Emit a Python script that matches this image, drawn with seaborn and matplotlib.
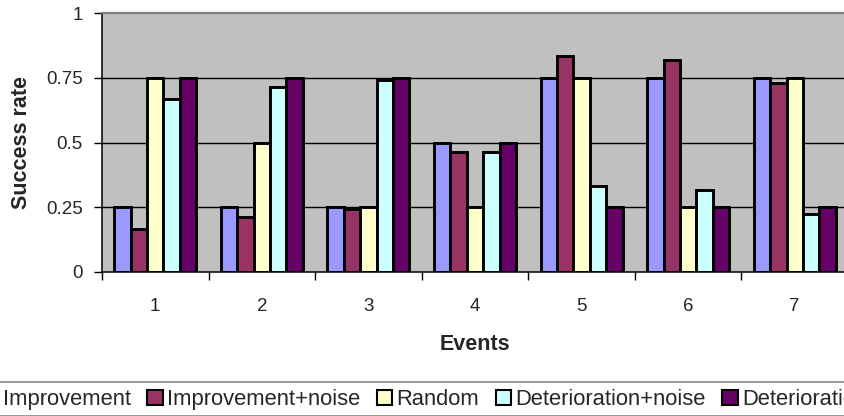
import pandas as pd
import matplotlib.pyplot as plt
import seaborn as sns

# Chart data
events = ["1", "2", "3", "4", "5", "6", "7"]
series = ["Improvement", "Improvement+noise", "Random", "Deterioration+noise", "Deterioration"]
improvement = [0.25, 0.25, 0.25, 0.5, 0.75, 0.75, 0.75]
improvement_noise = [0.167, 0.214, 0.245, 0.465, 0.833, 0.817, 0.728]
random_rate = [0.75, 0.5, 0.25, 0.25, 0.75, 0.25, 0.75]
deterioration_noise = [0.667, 0.714, 0.743, 0.465, 0.333, 0.315, 0.225]
deterioration = [0.75, 0.75, 0.75, 0.5, 0.25, 0.25, 0.25]
y_ticks = [0, 0.25, 0.5, 0.75, 1]
y_tick_labels = ["0", "0.25", "0.5", "0.75", "1"]

colors = ["#9999FF", "#993366", "#FFFFCC", "#CCFFFF", "#660066"]

values = [improvement, improvement_noise, random_rate, deterioration_noise, deterioration]
rows = []
for name, vals in zip(series, values):
    for ev, v in zip(events, vals):
        rows.append({"Events": ev, "Success rate": v, "Series": name})
df = pd.DataFrame(rows)

sns.set_theme(style="white")
plt.rcParams["font.family"] = ["Liberation Sans", "DejaVu Sans"]

fig = plt.figure(figsize=(8.45, 4.16), dpi=100)
# plot area runs a little past the right edge, like the reference
ax = fig.add_axes([102 / 845, (416 - 272) / 416, 746 / 845, 259 / 416])
ax.set_facecolor("#C0C0C0")

sns.barplot(data=df, x="Events", y="Success rate", hue="Series", hue_order=series,
            order=events, palette=colors, width=0.77, edgecolor="black",
            linewidth=2.1, saturation=1, ax=ax, legend=True)

ax.set_ylim(0, 1)
ax.set_xlim(-0.5, 6.5)
ax.set_yticks(y_ticks)
ax.set_yticklabels(y_tick_labels, fontsize=13.5)
for y in y_ticks[1:-1]:
    ax.axhline(y, color="black", linewidth=1.0, zorder=0.5)

ax.set_xticks(range(len(events)))
ax.set_xticklabels(events, fontsize=13.5)
ax.set_xticks([i - 0.5 for i in range(len(events) + 1)], minor=True)
ax.tick_params(axis="x", which="major", length=0, pad=19)
ax.tick_params(axis="x", which="minor", length=6, width=1.0, color="black", direction="out", bottom=True)
ax.tick_params(axis="y", length=6, width=1.0, color="black", direction="out", left=True, pad=8)

for side in ["left", "bottom"]:
    ax.spines[side].set_color("black")
    ax.spines[side].set_linewidth(1.1)
ax.spines["top"].set_color("#808080")
ax.spines["top"].set_linewidth(1.6)
ax.spines["right"].set_visible(False)

ax.set_xlabel("Events", fontsize=15.5, fontweight="bold")
ax.set_ylabel("Success rate", fontsize=15.5, fontweight="bold")
ax.xaxis.set_label_coords(0.5, -0.24)
ax.yaxis.set_label_coords(-0.094, 0.5)

# legend is wider than the figure, cut at both sides as in the reference
handles, labels = ax.get_legend_handles_labels()
ax.get_legend().remove()
leg = fig.legend(handles, labels, loc="upper center", bbox_to_anchor=(0.503, 0.081),
                 bbox_transform=fig.transFigure, ncol=5, fontsize=15.8, frameon=True,
                 fancybox=False, edgecolor="#808080", handlelength=0.7, handleheight=0.7,
                 handletextpad=0.2, columnspacing=0.75, borderpad=0.3, borderaxespad=0)
leg.get_frame().set_linewidth(1.4)
for h in leg.legend_handles:
    h.set_linewidth(1.5)

plt.savefig("out.png", dpi=100)
plt.close()
